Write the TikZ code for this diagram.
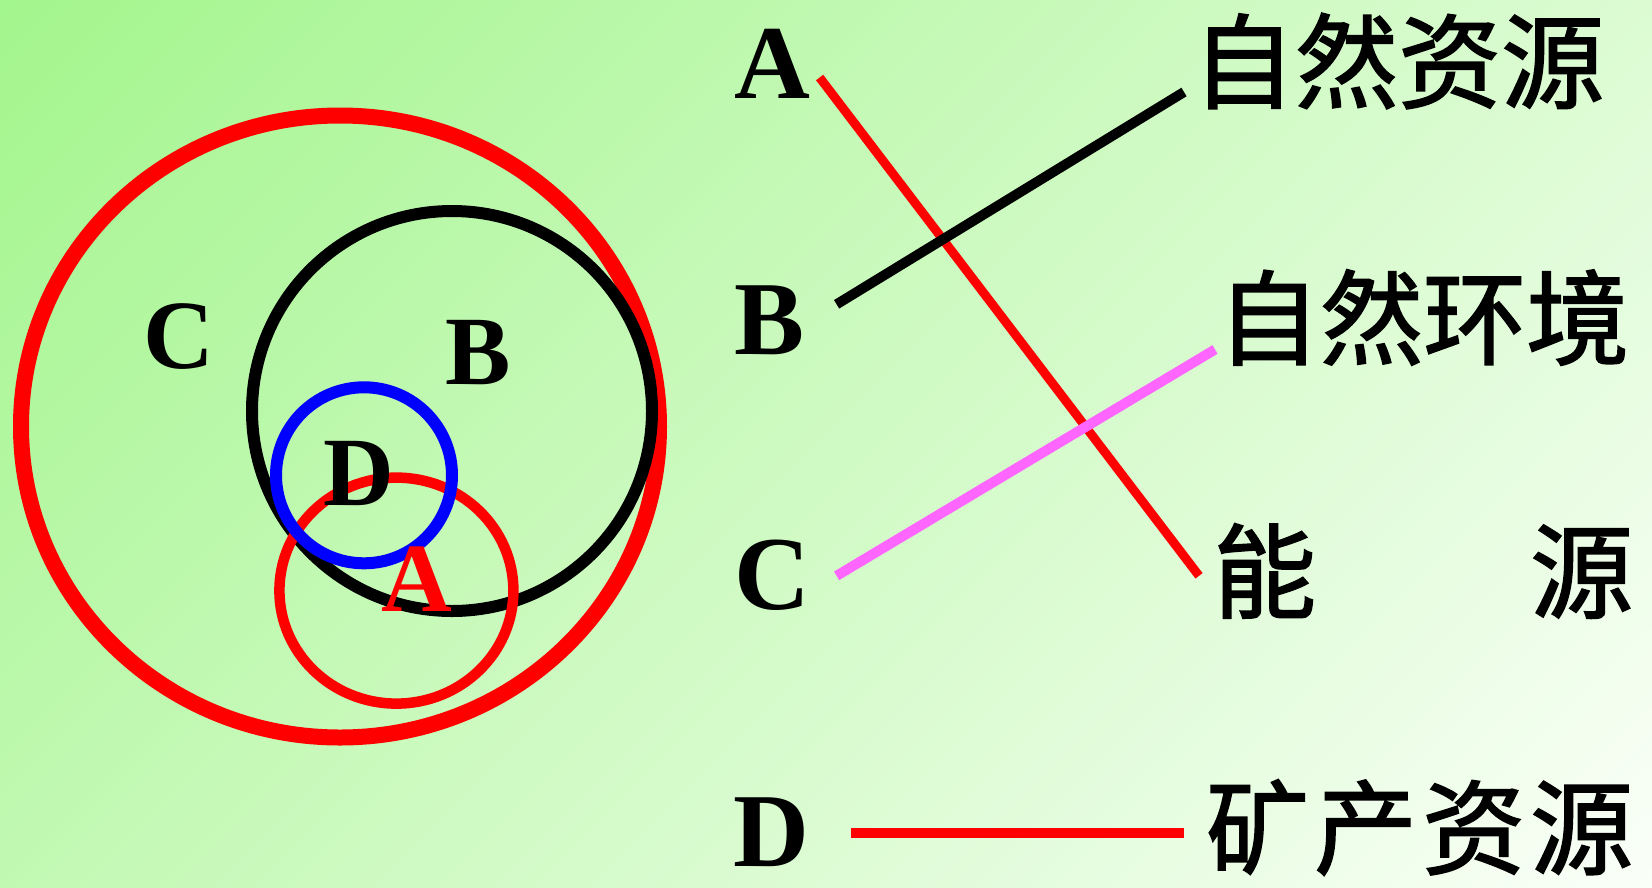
\documentclass[tikz,border=0pt]{standalone}
\usepackage{fontspec}
\setmainfont{Liberation Serif}
\newfontfamily\cjk[FakeBold=1.6]{Noto Sans CJK SC}
\definecolor{bgA}{RGB}{163,245,141}
\definecolor{bgB}{RGB}{250,255,248}
\definecolor{pinkline}{RGB}{255,102,255}
\begin{document}
\begin{tikzpicture}[x=1pt,y=-1pt,
  bigring/.style={draw=red,line width=16pt},
  ring/.style={line width=12pt},
  lbl/.style={font=\fontsize{98}{98}\selectfont\bfseries,inner sep=0pt},
  rlbl/.style={font=\fontsize{105}{105}\selectfont\bfseries,inner sep=0pt},
  word/.style={font=\fontsize{103}{103}\selectfont\cjk,inner sep=0pt,anchor=west},
  link/.style={line width=10pt}]
\useasboundingbox (0,0) rectangle (1652,887);
% background gradient (45 degree bands)
\begin{scope}
\clip (0,0) rectangle (1652,887);
\foreach \i in {0,...,127}{
  \pgfmathsetmacro{\sa}{\i*20}
  \pgfmathsetmacro{\sb}{\i*20+21}
  \pgfmathsetmacro{\p}{min(100,\i*100/126)}
  \colorlet{bandc}{bgB!\p!bgA}
  \fill[bandc] (\sa,0) -- (\sb,0) -- (\sb-1000,1000) -- (\sa-1000,1000) -- cycle;
}
\end{scope}
% Venn-like circles
\draw[bigring] (340,426.5) ellipse [x radius=319, y radius=311];
\draw[ring,black] (452,411) circle [radius=200];
\draw[red,line width=10.5pt] (396.4,590.6) ellipse [x radius=117, y radius=113];
\draw[ring,blue] (364,475.3) circle [radius=88];
\node[lbl] (lc) at (178.6,337) {C};
\node[lbl] (lb) at (477.7,352.4) {B};
\node[lbl] (ld) at (358.5,473.6) {D};
\node[lbl,text=red] (la) at (417,579) {A};
% right panel
\node[rlbl] (A) at (772.7,63.5) {A};
\node[rlbl] (B) at (770,320) {B};
\node[rlbl] (C) at (772.5,575) {C};
\node[rlbl] (D) at (771,832) {D};
\node[word] (w1) at (1192,61) {自然资源};
\node[word] (w2) at (1217,317.5) {自然环境};
\node[word] (w3) at (1213,571) {能\hspace{214pt}源};
\node[word] (w4) at (1206,827.5) {矿\kern5pt 产\kern5pt 资\kern5pt 源};
\coordinate (a0) at (819.6,77.5);
\coordinate (a1) at (1199,575.8);
\coordinate (b0) at (836.6,304.3);
\coordinate (b1) at (1184,92);
\coordinate (c0) at (836.6,575.8);
\coordinate (c1) at (1215,349.5);
\coordinate (d0) at (851,833);
\coordinate (d1) at (1184,833);
\draw[link,red,line width=9pt] (a0) -- (a1);
\draw[link,black] (b0) -- (b1);
\draw[link,pinkline] (c0) -- (c1);
\draw[link,red] (d0) -- (d1);
\end{tikzpicture}
\end{document}
